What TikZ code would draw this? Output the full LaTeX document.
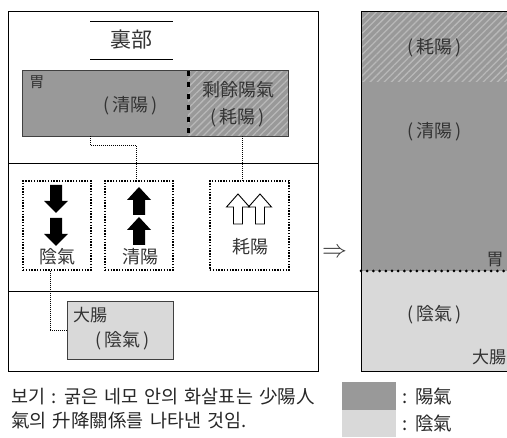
\documentclass[tikz,border=0pt]{standalone}
\usepackage{fontspec}
\setmainfont{Noto Sans CJK KR}
\newfontfamily\notefont[WordSpace=1.5]{Noto Sans CJK KR}
\usetikzlibrary{patterns.meta, calc, positioning}
\definecolor{yanggray}{gray}{0.60}
\definecolor{yingray}{gray}{0.85}
\definecolor{hatchgray}{gray}{0.72}
\definecolor{inkgray}{gray}{0.2}
\newcommand{\pbox}[1]{(\hspace{3pt}#1\hspace{3pt})}

\begin{document}
\begin{tikzpicture}[x=1pt, y=-1pt, inner sep=0pt, text=inkgray,
  dotbox/.style={draw, dash pattern=on 1.4pt off 1.4pt, line width=1.1pt, minimum height=89pt},
  organ/.style={draw=black!75, line width=0.8pt},
  hatched/.style={pattern={Lines[angle=45,distance=5pt,line width=1.3pt]}, pattern color=hatchgray},
  link/.style={dash pattern=on 1pt off 1pt, line width=0.8pt},
  big/.style={font=\fontsize{18}{20}\selectfont},
  mid/.style={font=\fontsize{17}{19}\selectfont},
  small/.style={font=\fontsize{15}{17}\selectfont},
  note/.style={anchor=west, text=black!85, font=\notefont\fontsize{18.5}{20}\selectfont},
  blockdown/.pic={\fill[black] (0,0) -- (12,-12) -- (6,-12) -- (6,-28) -- (-6,-28) -- (-6,-12) -- (-12,-12) -- cycle;},
  blockup/.pic={\fill[black] (0,0) -- (12,13) -- (6,13) -- (6,28) -- (-6,28) -- (-6,13) -- (-12,13) -- cycle;},
  hollowup/.pic={\draw[fill=white, line width=0.9pt] (0,0) -- (11.5,13) -- (4.5,13) -- (4.5,30) -- (-4.5,30) -- (-4.5,13) -- (-11.5,13) -- cycle;}]
  \useasboundingbox (0,0) rectangle (507,438);

  % left panel
  \draw[line width=0.9pt] (8,11.5) rectangle (318,371.5);
  \draw[line width=0.9pt] (8,163) -- (318,163);
  \draw[line width=0.9pt] (8,291) -- (318,291);

  \node[font=\fontsize{21}{23}\selectfont] (title) at (131.5,40) {裏部};
  \draw[line width=0.8pt] (90,21.7) -- (173,21.7);
  \draw[line width=0.8pt] (90,59) -- (173,59);

  \node[fill=yanggray, minimum width=265pt, minimum height=65pt] (stomach) at (155.5,103.5) {};
  \fill[hatched] (188,71) rectangle (stomach.south east);
  \draw[organ] (stomach.south west) rectangle (stomach.north east);
  \draw[line width=3pt, dash pattern=on 5pt off 6.5pt] (188,71) -- (188,136);
  \node[small] (weilabel) at (37,82) {胃};
  \node[big] (qingtext) at (131,106) {\pbox{清陽}};
  \node[big] (rest) at (238,90) {剩餘陽氣};
  \node[big] (haotext) at (238,118) {\pbox{耗陽}};

  \node[dotbox, minimum width=68pt] (yinbox) at (57,225.5) {};
  \node[dotbox, minimum width=68pt] (qingbox) at (139,225.5) {};
  \node[dotbox, minimum width=79pt] (haobox) at (249.5,225.5) {};
  \foreach \t in {213,246} \pic at (56,\t) {blockdown};
  \foreach \t in {187,217} \pic at (139,\t) {blockup};
  \foreach \s in {238,260} \pic at (\s,194) {hollowup};
  \node[big] (yinlabel) at (57,257) {陰氣};
  \node[big] (qinglabel) at (140,257) {清陽};
  \node[big] (haolabel) at (250,247) {耗陽};

  \node[organ, fill=yingray, minimum width=105.5pt, minimum height=57.5pt] (dachang) at (120.25,330.25) {};
  \node[mid] (dclabel) at (90,315) {大腸};
  \node[big] (dctext) at (122.5,341) {\pbox{陰氣}};

  \draw[link] ([xshift=-65.5pt]stomach.south) |- ([xshift=-3pt,yshift=35pt]qingbox.north) -- ([xshift=-3pt]qingbox.north);
  \draw[link] ([xshift=-7.5pt]haobox.north |- stomach.south) -- ([xshift=-7.5pt]haobox.north);
  \draw[link] ([xshift=-7pt]yinbox.south) |- (dachang.west);

  \node (goes) at (334.5,253) {\fontsize{25}{25}\selectfont$\Rightarrow$};

  % right panel
  \fill[yanggray] (361,11.5) rectangle (507,271);
  \fill[hatched] (361,11.5) rectangle (507,82);
  \fill[yingray] (361,271) rectangle (507,371.5);
  \draw[line width=0.9pt] (507,11.5) -- (361,11.5) -- (361,371.5) -- (507,371.5);
  \draw[line width=3pt, line cap=round, dash pattern=on 0pt off 6.2pt] (361,271) -- (507,271);
  \node[big] (rhao) at (435,48) {\pbox{耗陽}};
  \node[big] (rqing) at (435,132) {\pbox{清陽}};
  \node[mid] (rwei) at (495,260) {胃};
  \node[big] (ryin) at (435,315) {\pbox{陰氣}};
  \node[mid] (rdc) at (489,357) {大腸};

  % key
  \node[note] (note1) at (11,396) {보기 : 굵은 네모 안의 화살표는 少陽人};
  \node[note] (note2) at (11,420) {氣의 升降關係를 나타낸 것임.};
  \node[fill=yanggray, minimum width=54pt, minimum height=28pt] (yangkey) at (369,396) {};
  \node[fill=yingray, minimum width=54pt, minimum height=27pt] (yinkey) at (369,423.5) {};
  \node[note] (yangtext) at ([xshift=6pt]yangkey.east) {: 陽氣};
  \node[note] (yintext) at ([xshift=6pt]yinkey.east) {: 陰氣};
\end{tikzpicture}
\end{document}
